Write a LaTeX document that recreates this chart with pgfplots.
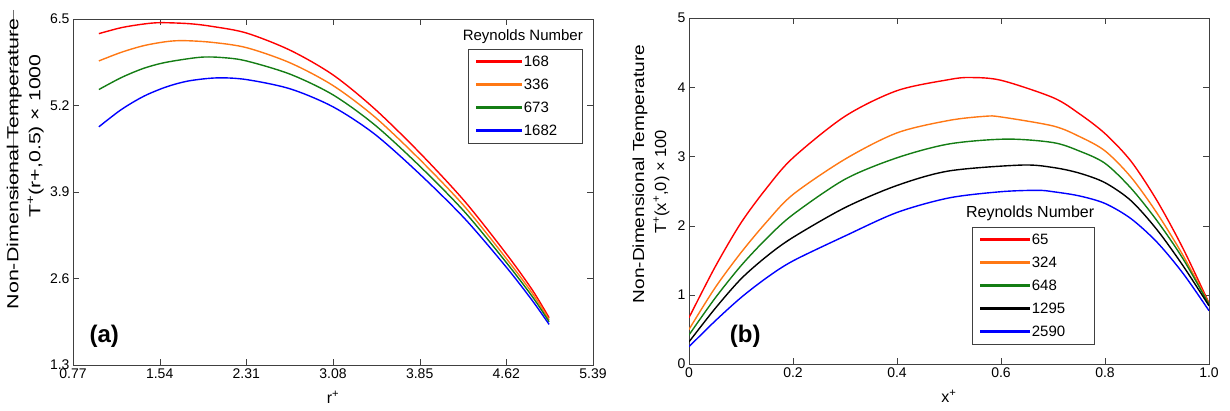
\documentclass[border=0pt]{standalone}
\usepackage{pgfplots}
\pgfplotsset{compat=1.18}
\usepackage{fontspec}
\setmainfont{Liberation Sans}
\usepackage{graphicx}

\definecolor{cred}{RGB}{255,0,0}
\definecolor{corange}{RGB}{255,120,20}
\definecolor{cgreen}{RGB}{20,125,20}
\definecolor{cblue}{RGB}{0,0,255}

\pgfplotsset{
  mystyle/.style={
    scale only axis,
    width=520pt, height=346pt,
    anchor=south west,
    axis line style={black!75},
    tick style={black!75},
    tick align=inside,
    major tick length=6pt,
    /pgf/number format/assume math mode=true,
    tick label style={font=\fontsize{14}{16}\selectfont},
    label style={font=\fontsize{16}{22}\selectfont},
    legend cell align=left,
    every axis plot/.append style={line width=1.4pt, smooth, no marks},
  },
  lega/.style={legend image code/.code={\fill[#1] (0pt,-0.8pt) rectangle (44pt,0.8pt);}},
  legb/.style={legend image code/.code={\fill[#1] (0pt,-0.8pt) rectangle (48pt,0.8pt);}},
}

\begin{document}
\begin{tikzpicture}
\useasboundingbox (0,0) rectangle (1230pt,410pt);
\draw[black!55, line width=0.8pt] (13pt,400pt) -- (13pt,210pt);

% (a)
\begin{axis}[mystyle, lega,
  at={(73pt,45pt)},
  xmin=0.77, xmax=5.39, ymin=1.3, ymax=6.5,
  xtick={0.77,1.54,2.31,3.08,3.85,4.62,5.39},
  xticklabels={0.77,1.54,2.31,3.08,3.85,4.62,5.39},
  ytick={1.3,2.6,3.9,5.2,6.5},
  yticklabels={1.3,2.6,3.9,5.2,6.5},
  xlabel={r\textsuperscript{+}},
  xlabel style={at={(axis description cs:0.5,-0.065)}, anchor=north},
  ylabel={\scalebox{1.34}[1]{Non-Dimensional Temperature}\\\hspace*{56pt}\scalebox{1.33}[1]{T\textsuperscript{+}(r+,0.5) × 1000}},
  ylabel style={align=center, at={(axis description cs:-0.092,0.581)}, anchor=center},
  legend style={at={(rel axis cs:0.979,0.913)}, anchor=north east,
    draw=black!75, font=\fontsize{15}{17}\selectfont,
    inner xsep=8pt, inner ysep=4pt, row sep=6pt,
    nodes={text height=11pt, text depth=2pt, inner sep=2pt}},
]
\addplot[cred] coordinates {(1.0,6.28) (1.2,6.37) (1.4,6.425) (1.55,6.445) (1.8,6.43) (2.0,6.39) (2.31,6.29) (2.7,6.03) (3.08,5.66) (3.45,5.15) (3.85,4.49) (4.25,3.76) (4.62,2.97) (4.85,2.43) (5.0,2.01)};
\addlegendentry{\makebox[48pt][l]{168}}
\addplot[corange] coordinates {(1.0,5.87) (1.2,6.00) (1.4,6.10) (1.6,6.16) (1.75,6.175) (2.0,6.15) (2.31,6.07) (2.7,5.84) (3.08,5.50) (3.45,5.03) (3.85,4.39) (4.25,3.68) (4.62,2.90) (4.85,2.38) (5.0,1.98)};
\addlegendentry{336}
\addplot[cgreen] coordinates {(1.0,5.44) (1.2,5.62) (1.4,5.76) (1.6,5.85) (1.9,5.925) (2.1,5.92) (2.31,5.87) (2.7,5.67) (3.08,5.36) (3.45,4.91) (3.85,4.29) (4.25,3.60) (4.62,2.84) (4.85,2.33) (5.0,1.95)};
\addlegendentry{673}
\addplot[cblue] coordinates {(1.0,4.88) (1.2,5.14) (1.4,5.34) (1.6,5.48) (1.8,5.57) (2.05,5.615) (2.31,5.59) (2.7,5.45) (3.08,5.18) (3.45,4.77) (3.85,4.17) (4.25,3.50) (4.62,2.77) (4.85,2.27) (5.0,1.91)};
\addlegendentry{1682}
\node[font=\fontsize{15}{17}\selectfont] at (rel axis cs:0.865,0.948) {Reynolds Number};
\node[font=\fontsize{24}{28}\selectfont\bfseries] at (rel axis cs:0.06,0.084) {(a)};
\end{axis}

% (b)
\begin{axis}[mystyle, legb,
  at={(689pt,46pt)},
  xmin=0, xmax=1, ymin=0, ymax=5,
  xtick={0,0.2,0.4,0.6,0.8,1},
  xticklabels={0,0.2,0.4,0.6,0.8,1.0},
  ytick={0,1,2,3,4,5},
  yticklabels={0,1,2,3,4,5},
  xlabel={x\textsuperscript{+}},
  xlabel style={at={(axis description cs:0.5,-0.065)}, anchor=north},
  ylabel={\scalebox{1.19}[1]{Non-Dimensional Temperature}\\\scalebox{1.03}[1]{T\textsuperscript{+}(x\textsuperscript{+},0) × 100}\hspace*{16pt}},
  ylabel style={align=center, at={(axis description cs:-0.073,0.549)}, anchor=center},
  legend style={at={(rel axis cs:0.779,0.396)}, anchor=north east,
    draw=black!75, font=\fontsize{15}{17}\selectfont,
    inner xsep=8pt, inner ysep=4pt, row sep=6pt,
    nodes={text height=11pt, text depth=2pt, inner sep=2pt}},
]
\addplot[cred] coordinates {(0,0.67) (0.05,1.40) (0.1,2.04) (0.15,2.55) (0.2,2.98) (0.3,3.58) (0.4,3.95) (0.5,4.11) (0.54,4.14) (0.6,4.10) (0.7,3.85) (0.75,3.62) (0.8,3.33) (0.85,2.93) (0.9,2.36) (0.95,1.67) (1.0,0.88)};
\addlegendentry{\makebox[52pt][l]{65}}
\addplot[corange] coordinates {(0,0.50) (0.05,1.10) (0.1,1.61) (0.15,2.06) (0.2,2.45) (0.3,2.96) (0.4,3.34) (0.5,3.52) (0.57,3.58) (0.6,3.57) (0.7,3.44) (0.75,3.29) (0.8,3.08) (0.85,2.70) (0.9,2.18) (0.95,1.57) (1.0,0.87)};
\addlegendentry{324}
\addplot[cgreen] coordinates {(0,0.42) (0.05,0.95) (0.1,1.42) (0.15,1.82) (0.2,2.16) (0.3,2.67) (0.4,2.98) (0.5,3.18) (0.61,3.25) (0.7,3.20) (0.75,3.08) (0.8,2.90) (0.85,2.54) (0.9,2.07) (0.95,1.52) (1.0,0.86)};
\addlegendentry{648}
\addplot[black] coordinates {(0,0.32) (0.05,0.80) (0.1,1.23) (0.15,1.56) (0.2,1.83) (0.3,2.26) (0.4,2.58) (0.5,2.79) (0.64,2.875) (0.7,2.84) (0.75,2.76) (0.8,2.62) (0.85,2.36) (0.9,1.94) (0.95,1.42) (1.0,0.84)};
\addlegendentry{1295}
\addplot[cblue] coordinates {(0,0.25) (0.05,0.62) (0.1,0.96) (0.15,1.25) (0.2,1.49) (0.3,1.85) (0.4,2.19) (0.5,2.40) (0.6,2.49) (0.67,2.51) (0.7,2.49) (0.75,2.43) (0.8,2.32) (0.85,2.10) (0.9,1.76) (0.95,1.31) (1.0,0.77)};
\addlegendentry{2590}
\node[font=\fontsize{16}{18}\selectfont] at (rel axis cs:0.656,0.436) {Reynolds Number};
\node[font=\fontsize{24}{28}\selectfont\bfseries] at (rel axis cs:0.108,0.081) {(b)};
\end{axis}
\end{tikzpicture}
\end{document}
